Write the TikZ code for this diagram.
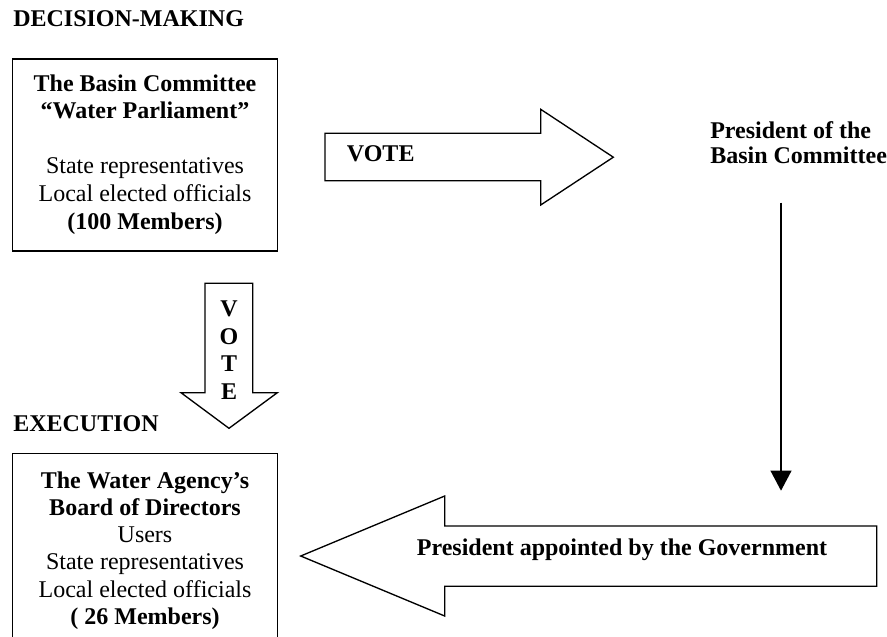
\documentclass[tikz,border=0pt]{standalone}
\usepackage{fontspec}
\setmainfont{Liberation Serif}
\usetikzlibrary{arrows.meta}

\begin{document}
\begin{tikzpicture}[x=0.75pt,y=-0.75pt,
  panel/.style={draw=black,line width=1pt,fill=white,inner sep=0pt},
  blockarrow/.style={draw=black,line width=1pt,fill=white,line join=miter},
  txt/.style={inner sep=0pt,anchor=base,font=\fontsize{18}{20}\selectfont},
  btxt/.style={txt,font=\fontsize{18}{20}\selectfont\bfseries},
  heading/.style={btxt,anchor=base west},
  thinarrow/.style={draw=black,line width=1.5pt,-{Triangle[width=15.5pt,length=15pt]}}]

% page frame
\path[use as bounding box,clip] (0,0) rectangle (887,636);
\fill[white] (0,0) rectangle (887,636);

% section headings
\node[heading] (hdec) at (13,26.5) {DECISION-MAKING};
\node[heading] (hexe) at (13,431.5) {EXECUTION};

% basin committee box
\node[panel,minimum width=198.45pt,minimum height=144pt] (basin) at (145,155) {};
\node[btxt] (b1) at (145,91) {The Basin Committee};
\node[btxt] (b2) at (145,118.6) {“Water Parliament”};
\node[txt]  (b3) at (145,173.8) {State representatives};
\node[txt]  (b4) at (145,201.4) {Local elected officials};
\node[btxt] (b5) at (145,229) {(100 Members)};

% board of directors box (runs past the lower edge)
\node[panel,minimum width=198.45pt,minimum height=160pt] (board) at (145,560) {};
\node[btxt] (d1) at (145,488.3) {The Water Agency’s};
\node[btxt] (d2) at (145,515.5) {Board of Directors};
\node[txt]  (d3) at (145,542.7) {Users};
\node[txt]  (d4) at (145,569.9) {State representatives};
\node[txt]  (d5) at (145,597.1) {Local elected officials};
\node[btxt] (d6) at (145,624.3) {( 26 Members)};

% vote arrow to the president
\draw[blockarrow] (325,133.3) -- (540.7,133.3) -- (540.7,109.3) -- (613.3,157.2)
  -- (540.7,205) -- (540.7,180.7) -- (325,180.7) -- cycle;
\node[btxt,anchor=base west] (vote1) at (346.7,161.7) {VOTE};

% president of the basin committee
\node[btxt,anchor=base west] (pres1) at (710,138.5) {President of the};
\node[btxt,anchor=base west] (pres2) at (710,163.5) {Basin Committee};

% vote arrow down to execution
\draw[blockarrow] (205,283.3) -- (252.7,283.3) -- (252.7,392.7) -- (277.3,392.7)
  -- (229,428.3) -- (181,392.7) -- (205,392.7) -- cycle;
\node[btxt] (vv) at (229,316.7) {V};
\node[btxt] (vo) at (229,344.3) {O};
\node[btxt] (vt) at (229,371.9) {T};
\node[btxt] (ve) at (229,399.5) {E};

% president's line of appointment
\coordinate (pdown) at (781,202.5);
\coordinate (pend) at (781,490.7);
\draw[thinarrow] (pdown) -- (pend);

% appointment arrow to the board
\draw[blockarrow] (876.7,526) -- (444.7,526) -- (444.7,496) -- (300.7,556)
  -- (444.7,616) -- (444.7,586.3) -- (876.7,586.3) -- cycle;
\node[btxt] (appt) at (622,555) {President appointed by the Government};
\end{tikzpicture}
\end{document}
